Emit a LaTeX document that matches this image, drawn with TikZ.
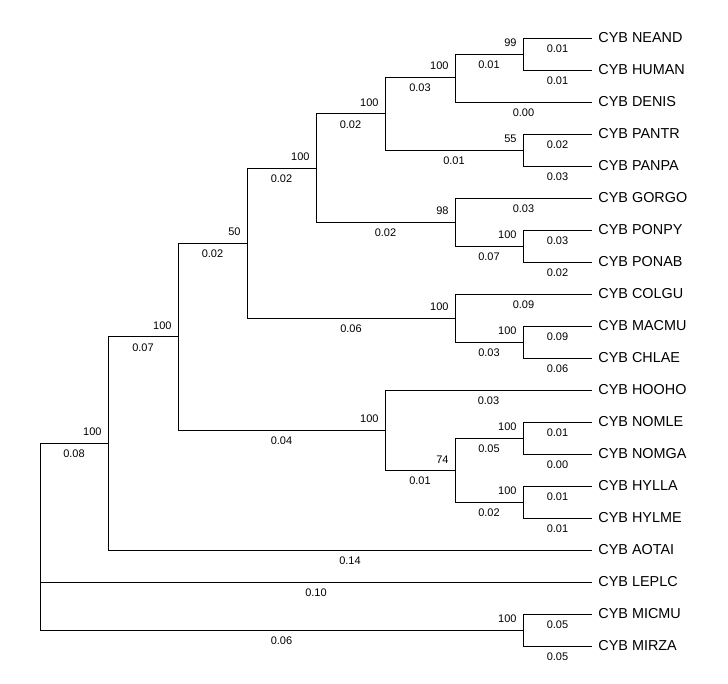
\documentclass[tikz,border=0pt]{standalone}
\usepackage{fontspec}
\setmainfont{Liberation Sans}
\begin{document}
\begin{tikzpicture}[x=1pt, y=-1pt, line width=0.9pt,
  taxon/.style={anchor=west, inner xsep=6pt, inner ysep=0pt, font=\fontsize{14.4}{16}\selectfont},
  blen/.style={anchor=north, inner sep=0pt, yshift=-6.5pt, font=\fontsize{11}{12}\selectfont},
  supp/.style={anchor=south east, inner sep=0pt, xshift=-6pt, yshift=6.5pt, font=\fontsize{11}{12}\selectfont}]
\useasboundingbox (0,0) rectangle (728,684);
\node[taxon] (neand) at (592,38) {CYB NEAND};
\node[taxon] (human) at (592,70) {CYB HUMAN};
\node[taxon] (denis) at (592,102) {CYB DENIS};
\node[taxon] (pantr) at (592,134) {CYB PANTR};
\node[taxon] (panpa) at (592,166) {CYB PANPA};
\node[taxon] (gorgo) at (592,198) {CYB GORGO};
\node[taxon] (ponpy) at (592,230) {CYB PONPY};
\node[taxon] (ponab) at (592,262) {CYB PONAB};
\node[taxon] (colgu) at (592,294) {CYB COLGU};
\node[taxon] (macmu) at (592,326) {CYB MACMU};
\node[taxon] (chlae) at (592,358) {CYB CHLAE};
\node[taxon] (hooho) at (592,390) {CYB HOOHO};
\node[taxon] (nomle) at (592,422) {CYB NOMLE};
\node[taxon] (nomga) at (592,454) {CYB NOMGA};
\node[taxon] (hylla) at (592,486) {CYB HYLLA};
\node[taxon] (hylme) at (592,518) {CYB HYLME};
\node[taxon] (aotai) at (592,550) {CYB AOTAI};
\node[taxon] (leplc) at (592,582) {CYB LEPLC};
\node[taxon] (micmu) at (592,614) {CYB MICMU};
\node[taxon] (mirza) at (592,646) {CYB MIRZA};
\coordinate (root) at (40,536);
\coordinate (anthro) at (108,443);
\coordinate (simi) at (178,336.5);
\coordinate (catar) at (247,243);
\coordinate (homin) at (316,168);
\coordinate (hominini) at (385,113.5);
\coordinate (homo) at (455,77);
\coordinate (homo2) at (523,54);
\coordinate (pan) at (523,150);
\coordinate (pongin) at (455,222);
\coordinate (pongo) at (523,246);
\coordinate (cerco) at (455,318);
\coordinate (papio) at (523,342);
\coordinate (hylob) at (385,430);
\coordinate (hyl74) at (455,470);
\coordinate (nomas) at (523,438);
\coordinate (hylo) at (523,502);
\coordinate (micro) at (523,630);
\draw (root) |- node[pos=.75,blen]{0.08} (anthro) node[supp]{100};
\draw (root) |- node[pos=.75,blen]{0.10} (leplc.west);
\draw (root) |- node[pos=.75,blen]{0.06} (micro) node[supp]{100};
\draw (micro) |- node[pos=.75,blen]{0.05} (micmu.west);
\draw (micro) |- node[pos=.75,blen]{0.05} (mirza.west);
\draw (anthro) |- node[pos=.75,blen]{0.07} (simi) node[supp]{100};
\draw (anthro) |- node[pos=.75,blen]{0.14} (aotai.west);
\draw (simi) |- node[pos=.75,blen]{0.02} (catar) node[supp]{50};
\draw (simi) |- node[pos=.75,blen]{0.04} (hylob) node[supp]{100};
\draw (catar) |- node[pos=.75,blen]{0.02} (homin) node[supp]{100};
\draw (catar) |- node[pos=.75,blen]{0.06} (cerco) node[supp]{100};
\draw (homin) |- node[pos=.75,blen]{0.02} (hominini) node[supp]{100};
\draw (homin) |- node[pos=.75,blen]{0.02} (pongin) node[supp]{98};
\draw (hominini) |- node[pos=.75,blen]{0.03} (homo) node[supp]{100};
\draw (hominini) |- node[pos=.75,blen]{0.01} (pan) node[supp]{55};
\draw (homo) |- node[pos=.75,blen]{0.01} (homo2) node[supp]{99};
\draw (homo) |- node[pos=.75,blen]{0.00} (denis.west);
\draw (homo2) |- node[pos=.75,blen]{0.01} (neand.west);
\draw (homo2) |- node[pos=.75,blen]{0.01} (human.west);
\draw (pan) |- node[pos=.75,blen]{0.02} (pantr.west);
\draw (pan) |- node[pos=.75,blen]{0.03} (panpa.west);
\draw (pongin) |- node[pos=.75,blen]{0.03} (gorgo.west);
\draw (pongin) |- node[pos=.75,blen]{0.07} (pongo) node[supp]{100};
\draw (pongo) |- node[pos=.75,blen]{0.03} (ponpy.west);
\draw (pongo) |- node[pos=.75,blen]{0.02} (ponab.west);
\draw (cerco) |- node[pos=.75,blen]{0.09} (colgu.west);
\draw (cerco) |- node[pos=.75,blen]{0.03} (papio) node[supp]{100};
\draw (papio) |- node[pos=.75,blen]{0.09} (macmu.west);
\draw (papio) |- node[pos=.75,blen]{0.06} (chlae.west);
\draw (hylob) |- node[pos=.75,blen]{0.03} (hooho.west);
\draw (hylob) |- node[pos=.75,blen]{0.01} (hyl74) node[supp]{74};
\draw (hyl74) |- node[pos=.75,blen]{0.05} (nomas) node[supp]{100};
\draw (hyl74) |- node[pos=.75,blen]{0.02} (hylo) node[supp]{100};
\draw (nomas) |- node[pos=.75,blen]{0.01} (nomle.west);
\draw (nomas) |- node[pos=.75,blen]{0.00} (nomga.west);
\draw (hylo) |- node[pos=.75,blen]{0.01} (hylla.west);
\draw (hylo) |- node[pos=.75,blen]{0.01} (hylme.west);
\end{tikzpicture}
\end{document}
